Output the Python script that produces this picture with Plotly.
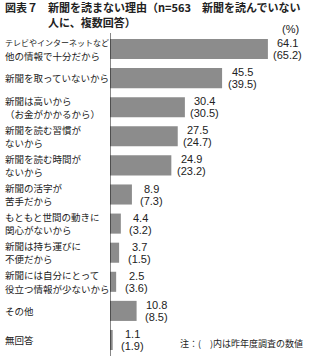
import plotly.graph_objects as go

categories = [
    "テレビやインターネットなど<br>他の情報で十分だから",
    "新聞を取っていないから",
    "新聞は高いから<br>（お金がかかるから）",
    "新聞を読む習慣が<br>ないから",
    "新聞を読む時間が<br>ないから",
    "新聞の活字が<br>苦手だから",
    "もともと世間の動きに<br>関心がないから",
    "新聞は持ち運びに<br>不便だから",
    "新聞には自分にとって<br>役立つ情報が少ないから",
    "その他",
    "無回答",
]
values_this_year = [64.1, 45.5, 30.4, 27.5, 24.9, 8.9, 4.4, 3.7, 2.5, 10.8, 1.1]
values_last_year = [65.2, 39.5, 30.5, 24.7, 23.2, 7.3, 3.2, 1.5, 3.6, 8.5, 1.9]

FONT = "Liberation Sans, Noto Sans CJK JP, sans-serif"
JP = "Noto Sans CJK JP, sans-serif"
TXT = "#222222"

ypos = list(range(len(categories)))

fig = go.Figure()
fig.add_trace(go.Bar(
    x=values_this_year, y=ypos, orientation="h",
    marker=dict(color="#8c8c8c", line=dict(width=0)),
    width=0.69, hoverinfo="skip",
))

ann = []
for i, (c, v, p) in enumerate(zip(categories, values_this_year, values_last_year)):
    lines = c.split("<br>")
    n = len(lines)
    for k, ln in enumerate(lines):
        size = 9.5
        if len(ln) > 12:
            size = 8
        shift = (-(k - (n - 1) / 2)) * 13.4
        ann.append(dict(
            x=-107 / 202, xref="paper", y=i, yref="y", text=ln,
            xanchor="left", yanchor="middle", align="left", showarrow=False,
            yshift=shift, font=dict(family=JP, size=size, color=TXT),
        ))
    for k, t in enumerate([f"{v}", f"({p})"]):
        ann.append(dict(
            x=v, xref="x", y=i, yref="y", text=t,
            xanchor="center", yanchor="middle", showarrow=False,
            xshift=20, yshift=6 if k == 0 else -6,
            font=dict(family=FONT, size=11, color=TXT),
        ))

fig.update_layout(
    width=312, height=358,
    margin=dict(l=110, r=0, t=33, b=2),
    paper_bgcolor="white", plot_bgcolor="white",
    showlegend=False,
    xaxis=dict(range=[0, 82], visible=False, fixedrange=True),
    yaxis=dict(range=[10.55, -0.55], showticklabels=False, showgrid=False,
               zeroline=False, showline=False, fixedrange=True),
    annotations=ann,
)

fig.add_shape(type="line", xref="x", yref="paper", x0=0, x1=0, y0=0.0, y1=1.0,
              line=dict(color="#111111", width=1))

def px(xp):
    return (xp - 110) / 202

def py(yp):
    return 1 - (yp - 33) / 323

fig.add_annotation(x=px(3), y=py(7.5), xref="paper", yref="paper", showarrow=False,
                   xanchor="left", yanchor="middle", text="<b>図表７</b>",
                   font=dict(family=JP, size=11, color=TXT))
fig.add_annotation(x=px(46), y=py(7.5), xref="paper", yref="paper", showarrow=False,
                   xanchor="left", yanchor="middle",
                   text="<b>新聞を読まない理由（n=563　新聞を読んでいない</b>",
                   font=dict(family=JP, size=11, color=TXT))
fig.add_annotation(x=px(46), y=py(22), xref="paper", yref="paper", showarrow=False,
                   xanchor="left", yanchor="middle",
                   text="<b>人に、複数回答）</b>",
                   font=dict(family=JP, size=11, color=TXT))
fig.add_annotation(x=px(301), y=py(21), xref="paper", yref="paper", showarrow=False,
                   xanchor="right", yanchor="top", text="(%)",
                   font=dict(family=FONT, size=11, color=TXT))
fig.add_annotation(x=px(305), y=py(343), xref="paper", yref="paper", showarrow=False,
                   xanchor="right", yanchor="middle", text="注：(　)内は昨年度調査の数値",
                   font=dict(family=JP, size=9, color=TXT))

fig.write_html("out.html")
